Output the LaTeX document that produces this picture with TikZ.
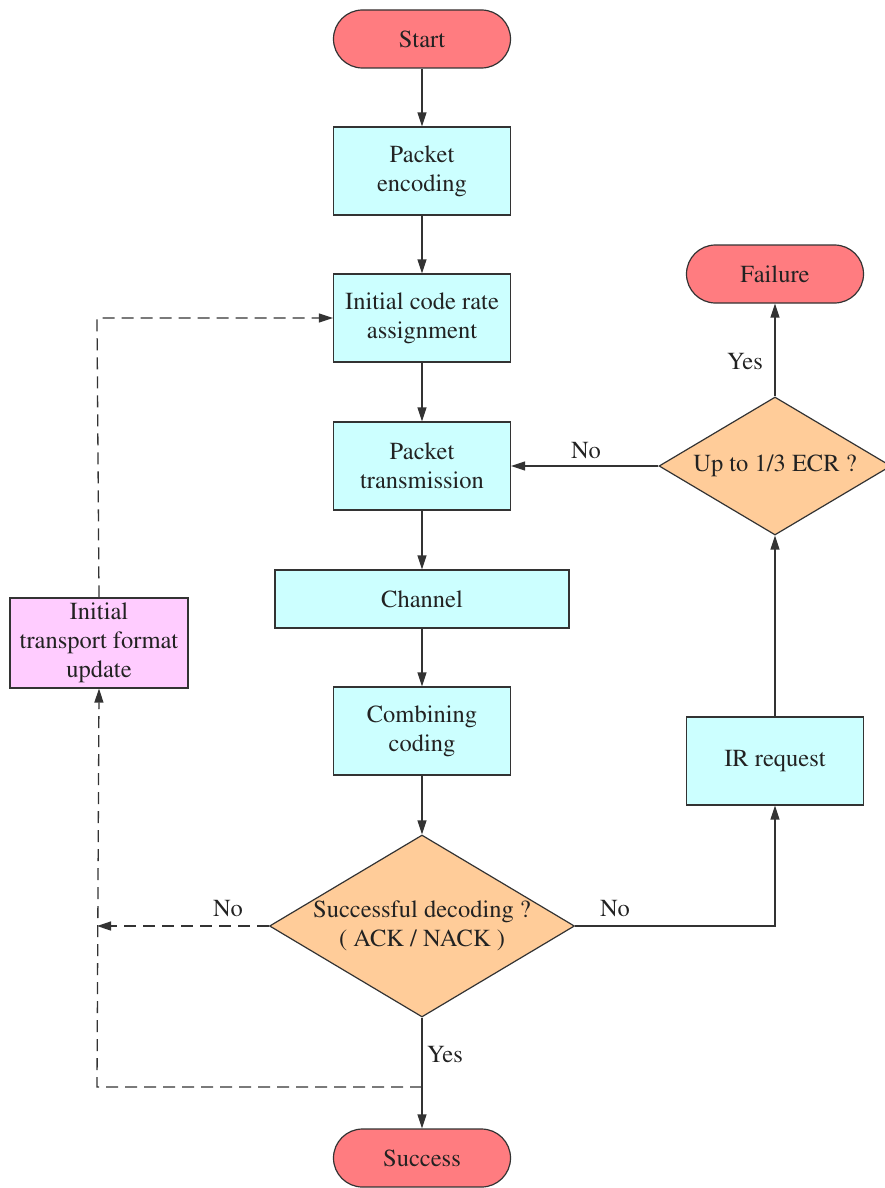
\documentclass[tikz,border=0pt]{standalone}
\usepackage[T1]{fontenc}
\usepackage{mathptmx}
\usetikzlibrary{shapes.geometric,arrows.meta}
\definecolor{termfill}{HTML}{FF7C80}
\definecolor{procfill}{HTML}{CCFFFF}
\definecolor{decfill}{HTML}{FFCC99}
\definecolor{updfill}{HTML}{FFCCFF}
\definecolor{txt}{HTML}{222222}
\definecolor{ln}{HTML}{333333}
\begin{document}
\begin{tikzpicture}[x=1pt,y=-1pt,
  every node/.style={font=\fontsize{24.5}{29}\selectfont, text=txt},
  term/.style={draw=ln, line width=1.2pt, fill=termfill, rounded corners=29pt, minimum width=177pt, minimum height=58pt, inner sep=0pt},
  proc/.style={draw=ln, line width=1.2pt, fill=procfill, minimum width=177pt, minimum height=88pt, align=center, inner sep=0pt},
  upd/.style={draw=ln, line width=1.2pt, fill=updfill, minimum width=178pt, minimum height=90pt, align=center, inner sep=0pt},
  dia/.style={draw=ln, line width=1.2pt, fill=decfill, diamond, inner sep=0pt},
  dtext/.style={align=center, inner sep=0pt},
  lbl/.style={inner sep=0pt},
  conn/.style={draw=ln, line width=1.3pt, -{Triangle[length=14pt,width=9pt]}},
  dconn/.style={draw=ln, line width=1.3pt, dash pattern=on 12pt off 7pt},
  darr/.style={dconn, -{Triangle[length=14pt,width=9pt]}}
]
\useasboundingbox (0,0) rectangle (885,1188);

\node[term] (start) at (422,39) {Start};
\node[proc] (enc) at (422,171) {Packet\\encoding};
\node[proc] (code) at (422,318) {Initial code rate\\assignment};
\node[proc] (trans) at (422,466) {Packet\\transmission};
\node[proc, minimum width=294pt, minimum height=58pt] (chan) at (422,599) {Channel};
\node[proc] (comb) at (422,731) {Combining\\coding};
\node[dia, minimum width=305pt, minimum height=182pt] (dec) at (422,926) {};
\node[dtext] (dectext) at (422,926) {Successful decoding ?\\( ACK / NACK )};
\node[term] (succ) at (422,1158) {Success};
\node[term] (fail) at (775,274) {Failure};
\node[dia, minimum width=232pt, minimum height=138pt] (ecr) at (775,466) {};
\node[dtext] (ecrtext) at (775,466) {Up to 1/3 ECR ?};
\node[proc] (ir) at (775,761) {IR request};
\node[upd] (upd) at (99,643) {Initial\\transport format\\update};

\coordinate (decleft) at (97,926);
\coordinate (join) at (422,1087);
\coordinate (joinleft) at (97,1087);
\coordinate (topleft) at (97,318);
\coordinate (decright) at (775,926);

\draw[conn] (start) -- (enc);
\draw[conn] (enc) -- (code);
\draw[conn] (code) -- (trans);
\draw[conn] (trans) -- (chan);
\draw[conn] (chan) -- (comb);
\draw[conn] (comb) -- (dec.north);
\draw[conn] (dec.south) -- (succ);
\draw[conn] (dec.east) -- (decright) -- (ir.south);
\draw[conn] (ir) -- (ecr.south);
\draw[conn] (ecr.north) -- (fail);
\draw[conn] (ecr.west) -- (trans.east);

\draw[darr] (dec.west) -- (decleft);
\draw[darr] (join) -- (joinleft) -- (upd.south);
\draw[darr] (upd.north) -- (topleft) -- (code.west);

\node[lbl] (lno1) at (228,909) {No};
\node[lbl] (lno2) at (615,909) {No};
\node[lbl] (lyes1) at (445,1055) {Yes};
\node[lbl] (lno3) at (586,451) {No};
\node[lbl] (lyes2) at (745,362) {Yes};
\end{tikzpicture}
\end{document}
